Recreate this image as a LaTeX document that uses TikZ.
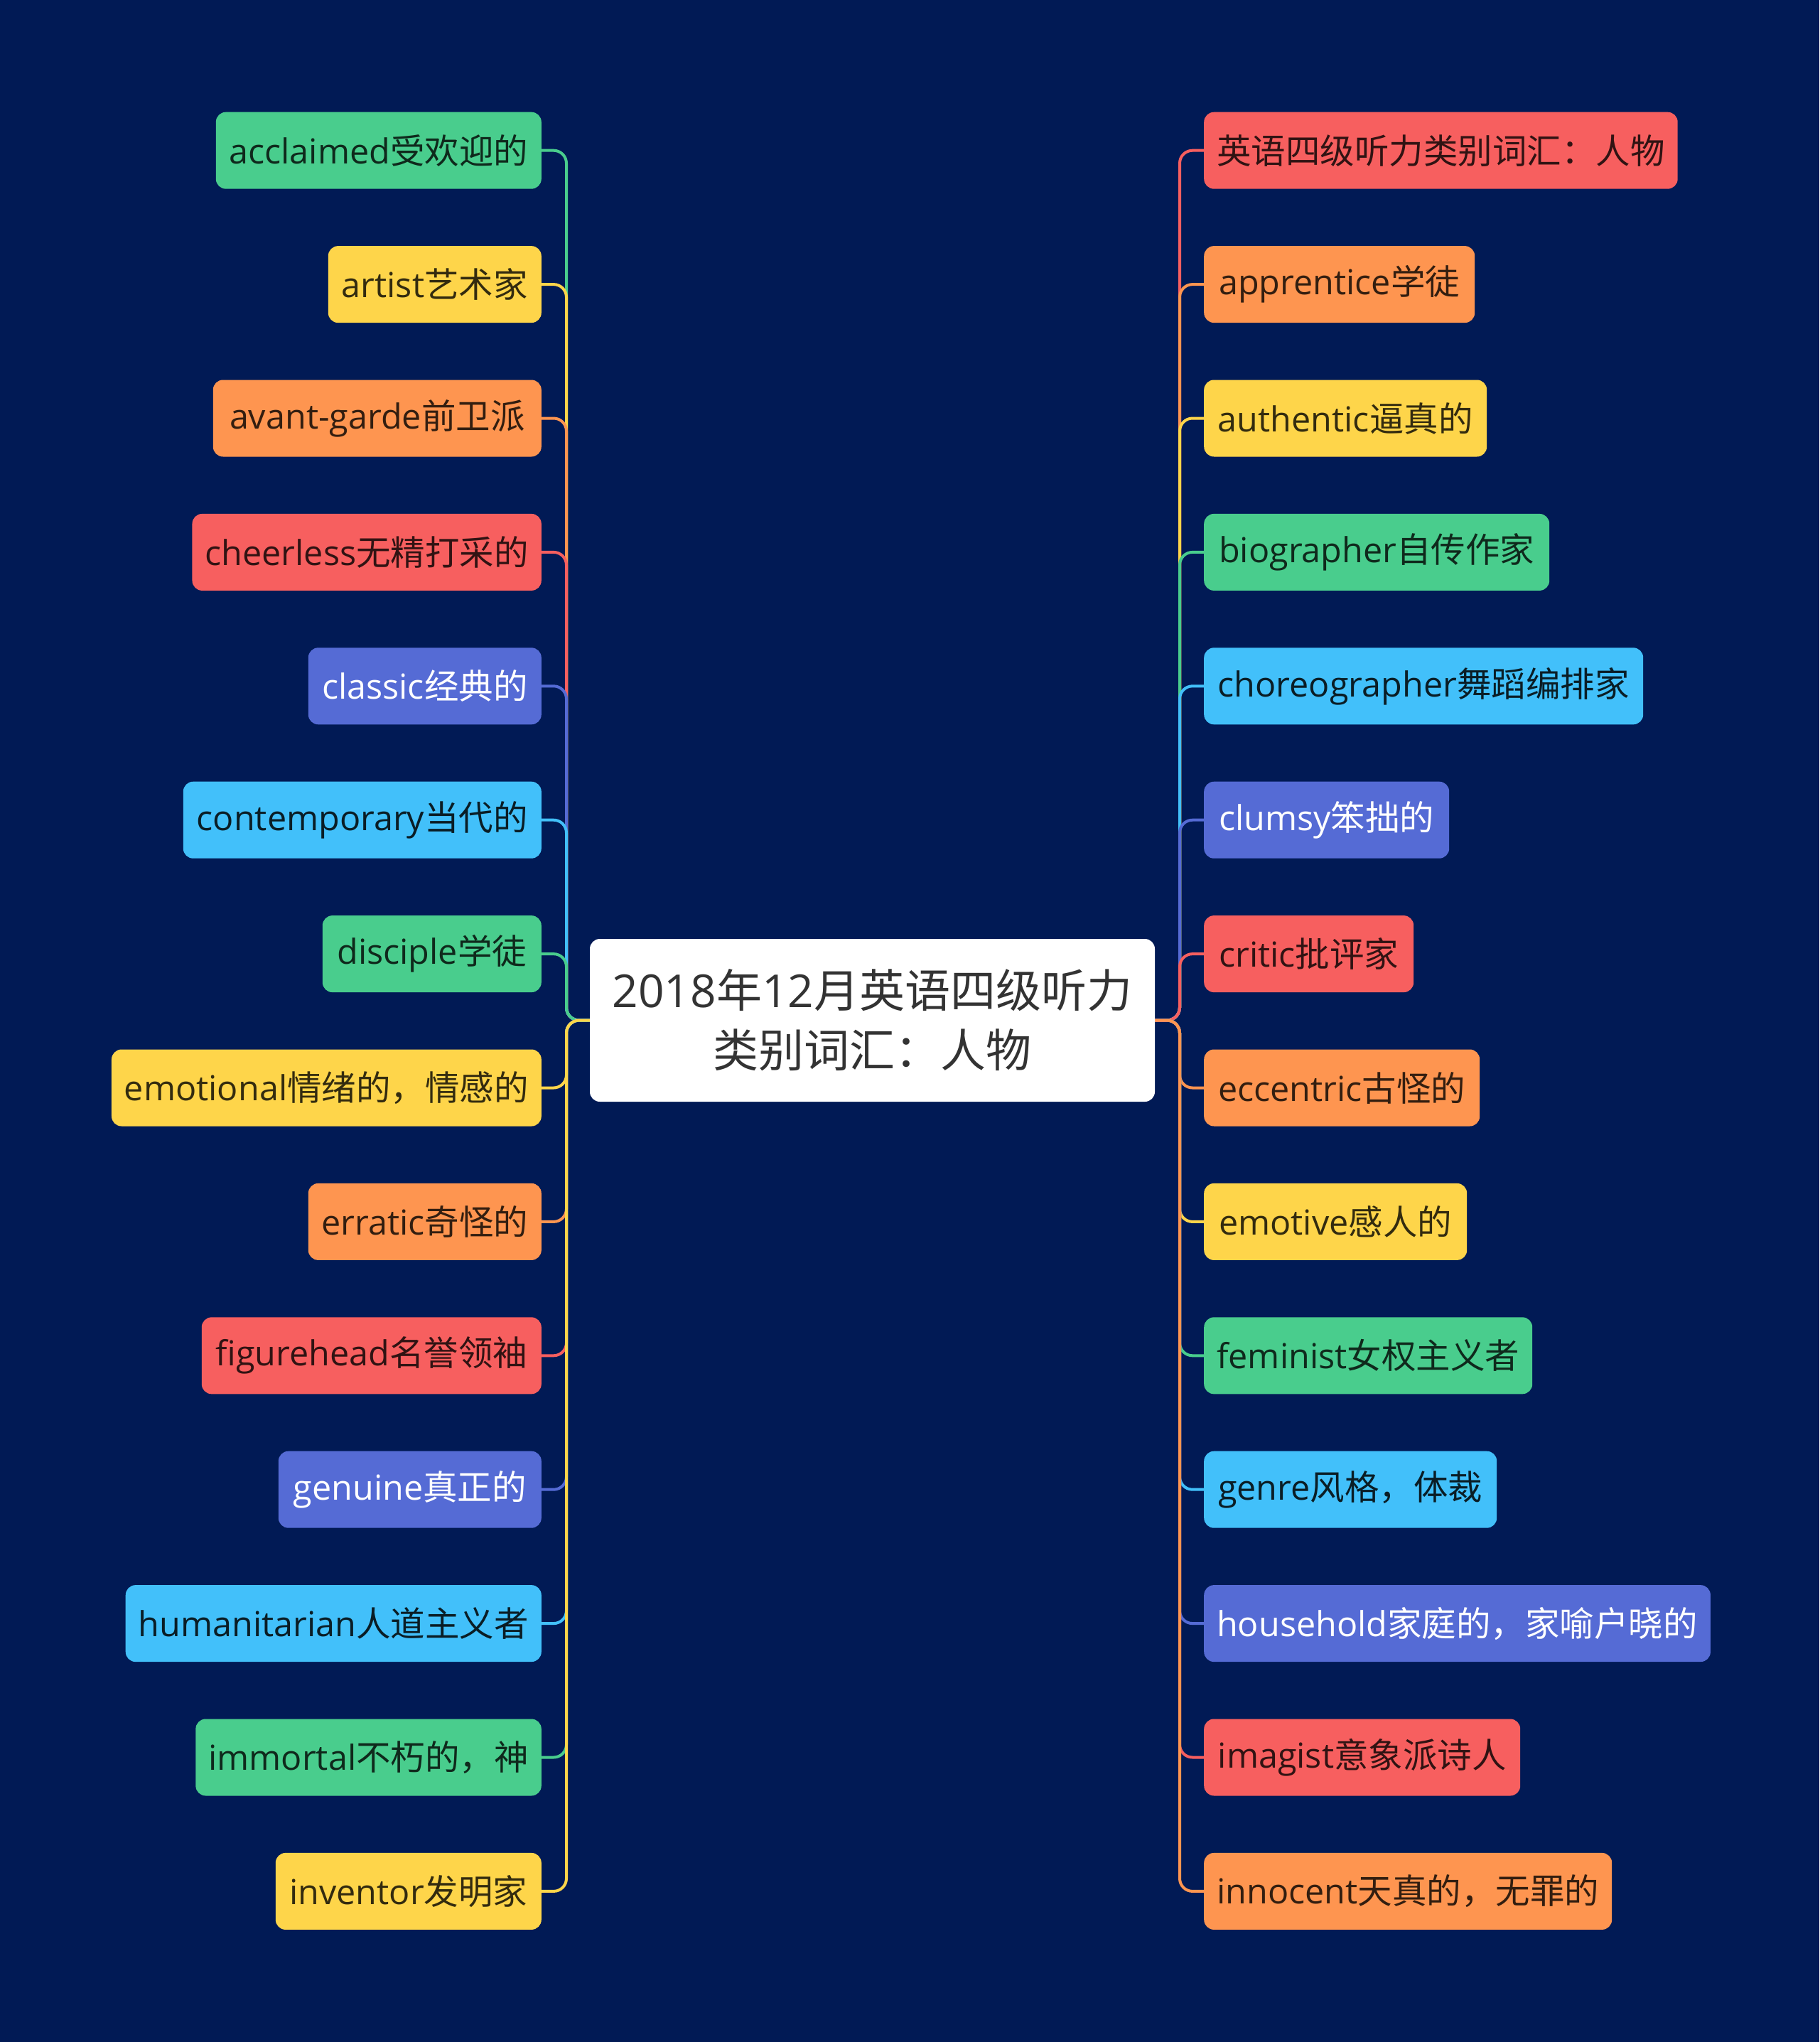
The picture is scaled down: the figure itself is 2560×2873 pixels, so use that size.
\documentclass[tikz,border=0pt]{standalone}
\usepackage{fontspec}
\setmainfont{Noto Sans CJK SC}
\newfontfamily\lat{Open Sans}
\usetikzlibrary{backgrounds}
\definecolor{bg}{HTML}{011A55}
\definecolor{cgreen}{HTML}{49CD8D}
\definecolor{cyellow}{HTML}{FED54A}
\definecolor{corange}{HTML}{FE9550}
\definecolor{cred}{HTML}{F75F5F}
\definecolor{cpurple}{HTML}{556BD5}
\definecolor{cblue}{HTML}{42C0FA}
\definecolor{ctext}{HTML}{333333}
\tikzset{
  leaf/.style={rounded corners=14pt, minimum height=108pt, inner xsep=18pt, inner ysep=0pt, font=\fontsize{48.5}{58}\selectfont},
  lnode/.style={leaf, anchor=east},
  rnode/.style={leaf, anchor=west},
  cG/.style={fill=cgreen, text=cgreen!20!black},
  cY/.style={fill=cyellow, text=cyellow!20!black},
  cO/.style={fill=corange, text=corange!20!black},
  cR/.style={fill=cred, text=cred!20!black},
  cP/.style={fill=cpurple, text=white},
  cB/.style={fill=cblue, text=cblue!15!black},
  conn/.style={line width=4pt, rounded corners=18pt},
  root/.style={fill=white, rounded corners=14pt, minimum width=795pt, minimum height=229pt, align=center, text=ctext, font=\fontsize{64}{84}\selectfont}
}
\begin{document}
\begin{tikzpicture}[x=1pt,y=-1pt]
\useasboundingbox (0,0) rectangle (2560,2873);

\node[root] (C) at (1227.5,1435.5) {{\lat 2018}年{\lat 12}月英语四级听力\\类别词汇：人物};
\coordinate (LV) at (797,1435.5);
\coordinate (RV) at (1660,1435.5);

% left nodes
\node[lnode, cG, minimum width=458pt] (L1) at (762,211.7) {{\lat acclaimed}受欢迎的};
\node[lnode, cY, minimum width=300pt] (L2) at (762,400.1) {{\lat artist}艺术家};
\node[lnode, cO, minimum width=462pt] (L3) at (762,588.5) {{\lat avant-garde}前卫派};
\node[lnode, cR, minimum width=487pt] (L4) at (762,776.9) {{\lat cheerless}无精打采的};
\node[lnode, cP, minimum width=328pt] (L5) at (762,965.3) {{\lat classic}经典的};
\node[lnode, cB, minimum width=504pt] (L6) at (762,1153.7) {{\lat contemporary}当代的};
\node[lnode, cG, minimum width=308pt] (L7) at (762,1342.1) {{\lat disciple}学徒};
\node[lnode, cY, minimum width=603pt] (L8) at (762,1530.5) {{\lat emotional}情绪的，情感的};
\node[lnode, cO, minimum width=328pt] (L9) at (762,1718.9) {{\lat erratic}奇怪的};
\node[lnode, cR, minimum width=478pt] (L10) at (762,1907.3) {{\lat figurehead}名誉领袖};
\node[lnode, cP, minimum width=370pt] (L11) at (762,2095.7) {{\lat genuine}真正的};
\node[lnode, cB, minimum width=579pt] (L12) at (762,2284.1) {{\lat humanitarian}人道主义者};
\node[lnode, cG, minimum width=486pt] (L13) at (762,2472.5) {{\lat immortal}不朽的，神};
\node[lnode, cY, minimum width=374pt] (L14) at (762,2660.9) {{\lat inventor}发明家};

% right nodes
\node[rnode, cR, minimum width=658pt] (R1) at (1694,211.7) {英语四级听力类别词汇：人物};
\node[rnode, cO, minimum width=381pt] (R2) at (1694,400.1) {{\lat apprentice}学徒};
\node[rnode, cY, minimum width=398pt] (R3) at (1694,588.5) {{\lat authentic}逼真的};
\node[rnode, cG, minimum width=486pt] (R4) at (1694,776.9) {{\lat biographer}自传作家};
\node[rnode, cB, minimum width=618pt] (R5) at (1694,965.3) {{\lat choreographer}舞蹈编排家};
\node[rnode, cP, minimum width=345pt] (R6) at (1694,1153.7) {{\lat clumsy}笨拙的};
\node[rnode, cR, minimum width=295pt] (R7) at (1694,1342.1) {{\lat critic}批评家};
\node[rnode, cO, minimum width=388pt] (R8) at (1694,1530.5) {{\lat eccentric}古怪的};
\node[rnode, cY, minimum width=370pt] (R9) at (1694,1718.9) {{\lat emotive}感人的};
\node[rnode, cG, minimum width=462pt] (R10) at (1694,1907.3) {{\lat feminist}女权主义者};
\node[rnode, cB, minimum width=412pt] (R11) at (1694,2095.7) {{\lat genre}风格，体裁};
\node[rnode, cP, minimum width=707pt] (R12) at (1694,2284.1) {{\lat household}家庭的，家喻户晓的};
\node[rnode, cR, minimum width=445pt] (R13) at (1694,2472.5) {{\lat imagist}意象派诗人};
\node[rnode, cO, minimum width=574pt] (R14) at (1694,2660.9) {{\lat innocent}天真的，无罪的};

\begin{scope}[on background layer]
\fill[bg] (0,0) rectangle (2560,2873);
% left connectors, drawn top to bottom
\draw[conn, cgreen]  (C.west) -- (LV) |- (L1.east);
\draw[conn, cyellow] (C.west) -- (LV) |- (L2.east);
\draw[conn, corange] (C.west) -- (LV) |- (L3.east);
\draw[conn, cred]    (C.west) -- (LV) |- (L4.east);
\draw[conn, cpurple] (C.west) -- (LV) |- (L5.east);
\draw[conn, cblue]   (C.west) -- (LV) |- (L6.east);
\draw[conn, cgreen]  (C.west) -- (LV) |- (L7.east);
\draw[conn, cyellow] (C.west) -- (LV) |- (L8.east);
\draw[conn, corange] (C.west) -- (LV) |- (L9.east);
\draw[conn, cred]    (C.west) -- (LV) |- (L10.east);
\draw[conn, cpurple] (C.west) -- (LV) |- (L11.east);
\draw[conn, cblue]   (C.west) -- (LV) |- (L12.east);
\draw[conn, cgreen]  (C.west) -- (LV) |- (L13.east);
\draw[conn, cyellow] (C.west) -- (LV) |- (L14.east);
% right connectors, drawn top to bottom
\draw[conn, cred]    (C.east) -- (RV) |- (R1.west);
\draw[conn, corange] (C.east) -- (RV) |- (R2.west);
\draw[conn, cyellow] (C.east) -- (RV) |- (R3.west);
\draw[conn, cgreen]  (C.east) -- (RV) |- (R4.west);
\draw[conn, cblue]   (C.east) -- (RV) |- (R5.west);
\draw[conn, cpurple] (C.east) -- (RV) |- (R6.west);
\draw[conn, cred]    (C.east) -- (RV) |- (R7.west);
\draw[conn, corange] (C.east) -- (RV) |- (R8.west);
\draw[conn, cyellow] (C.east) -- (RV) |- (R9.west);
\draw[conn, cgreen]  (C.east) -- (RV) |- (R10.west);
\draw[conn, cblue]   (C.east) -- (RV) |- (R11.west);
\draw[conn, cpurple] (C.east) -- (RV) |- (R12.west);
\draw[conn, cred]    (C.east) -- (RV) |- (R13.west);
\draw[conn, corange] (C.east) -- (RV) |- (R14.west);
\end{scope}
\end{tikzpicture}
\end{document}
